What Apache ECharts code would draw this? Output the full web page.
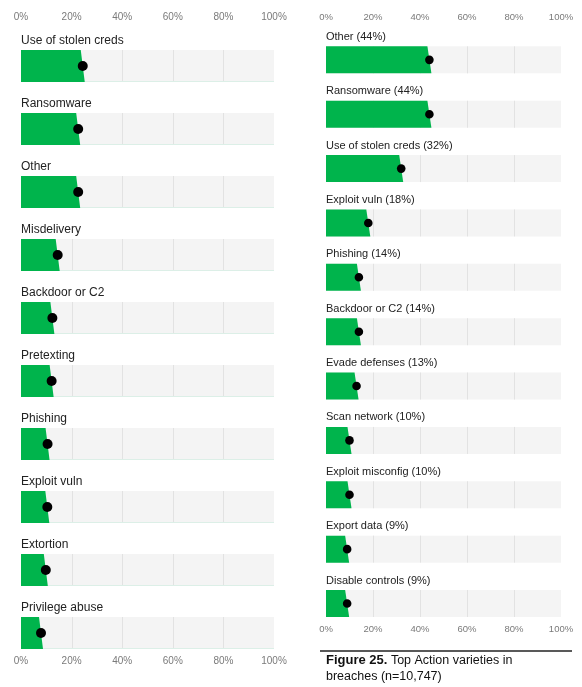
<!DOCTYPE html>
<html>
<head>
<meta charset="utf-8">
<script src="https://cdn.jsdelivr.net/npm/echarts@6/dist/echarts.min.js"></script>
<style>
  html, body { margin: 0; padding: 0; background: #fff; }
  #container { width: 582px; height: 687px; }
</style>
</head>
<body>
<div id="container"></div>
<script>
// left panel: action varieties, dot = point estimate (%)
var leftNames = ['Use of stolen creds', 'Ransomware', 'Other', 'Misdelivery', 'Backdoor or C2',
  'Pretexting', 'Phishing', 'Exploit vuln', 'Extortion', 'Privilege abuse'];
var leftValues = [24.4, 22.6, 22.6, 14.5, 12.4, 12.1, 10.5, 10.4, 9.8, 7.9];

// right panel: top action varieties in breaches (%)
var rightNames = ['Other', 'Ransomware', 'Use of stolen creds', 'Exploit vuln', 'Phishing',
  'Backdoor or C2', 'Evade defenses', 'Scan network', 'Exploit misconfig', 'Export data', 'Disable controls'];
var rightValues = [44, 44, 32, 18, 14, 14, 13, 10, 10, 9, 9];

var gridTicks = [20, 40, 60, 80];

var GREEN = '#00b44c';
var FONT = '"Liberation Sans", Arial, sans-serif';

var dom = document.getElementById('container');
var myChart = echarts.init(dom, null, { renderer: 'canvas' });

// draws one row: gray track, grid lines, green slab, black dot and the label above
function makeRender(names, showPct, barH, dotR, labelGap, fontSize, bottomLine) {
  return function(params, api) {
    var idx = api.value(1);
    var v = api.value(0);
    var p0 = api.coord([0, idx]);
    var p100 = api.coord([100, idx]);
    var pv = api.coord([v, idx]);
    var band = api.size([0, 1])[1];
    var bottom = p0[1] + band / 2;
    var top = bottom - barH;
    var children = [];
    children.push({
      type: 'rect',
      shape: { x: p0[0], y: top, width: p100[0] - p0[0], height: barH },
      style: { fill: '#f4f4f4' }
    });
    gridTicks.forEach(function(t) {
      var x = Math.round(api.coord([t, idx])[0]) + 0.5;
      children.push({
        type: 'line',
        shape: { x1: x, y1: top, x2: x, y2: bottom },
        style: { stroke: '#e2e2e2', lineWidth: 1 }
      });
    });
    if (bottomLine) {
      children.push({
        type: 'line',
        shape: { x1: p0[0], y1: bottom - 0.5, x2: p100[0], y2: bottom - 0.5 },
        style: { stroke: '#dcefe7', lineWidth: 1 }
      });
    }
    children.push({
      type: 'polygon',
      shape: { points: [[p0[0], top], [pv[0] - 2, top], [pv[0] + 2, bottom], [p0[0], bottom]] },
      style: { fill: GREEN }
    });
    children.push({
      type: 'circle',
      shape: { cx: pv[0], cy: top + barH / 2, r: dotR },
      style: { fill: '#000' }
    });
    children.push({
      type: 'text',
      x: p0[0],
      y: top - labelGap,
      style: {
        text: names[idx] + (showPct ? ' (' + v + '%)' : ''),
        fill: '#222',
        font: fontSize + 'px ' + FONT,
        verticalAlign: 'middle',
        align: 'left'
      }
    });
    return { type: 'group', children: children };
  };
}

function pctAxis(gridIndex, position, margin, size) {
  return {
    type: 'value',
    gridIndex: gridIndex,
    position: position,
    min: 0,
    max: 100,
    interval: 20,
    axisLine: { show: false },
    axisTick: { show: false },
    splitLine: { show: false },
    axisLabel: {
      margin: margin,
      color: '#7a7a7a',
      fontSize: size,
      fontFamily: FONT,
      formatter: '{value}%'
    }
  };
}

function catAxis(gridIndex, names) {
  return {
    type: 'category',
    gridIndex: gridIndex,
    inverse: true,
    data: names,
    show: false
  };
}

var option = {
  animation: false,
  grid: [
    { left: 21, top: 19, width: 253, height: 630 },
    { left: 326, top: 19, width: 235, height: 598 }
  ],
  xAxis: [
    pctAxis(0, 'top', -3, 10),
    pctAxis(0, 'bottom', 7, 10),
    pctAxis(1, 'top', -3, 9.5),
    pctAxis(1, 'bottom', 7, 9.5)
  ],
  yAxis: [catAxis(0, leftNames), catAxis(1, rightNames)],
  title: {
    left: 326,
    top: 653,
    padding: 0,
    text: '{b|Figure 25.}{r| Top Action varieties in}\n{r|breaches (n=10,747)}',
    textStyle: {
      fontWeight: 'normal',
      fontSize: 12.5,
      lineHeight: 15.5,
      rich: {
        b: { fontWeight: 'bold', fontSize: 13, fontFamily: FONT, color: '#111', lineHeight: 15.5 },
        r: { fontWeight: 'normal', fontSize: 12.5, fontFamily: FONT, color: '#111', lineHeight: 15.5 }
      }
    }
  },
  graphic: [{
    type: 'line',
    shape: { x1: 320, y1: 651, x2: 572, y2: 651 },
    style: { stroke: '#222', lineWidth: 1.5 }
  }],
  series: [{
    type: 'custom',
    xAxisIndex: 0,
    yAxisIndex: 0,
    clip: false,
    renderItem: makeRender(leftNames, false, 32, 5, 9.5, 12, true),
    data: leftValues.map(function(v, i) { return [v, i]; })
  }, {
    type: 'custom',
    xAxisIndex: 2,
    yAxisIndex: 1,
    clip: false,
    renderItem: makeRender(rightNames, true, 27, 4.3, 9.5, 11, false),
    data: rightValues.map(function(v, i) { return [v, i]; })
  }]
};

myChart.setOption(option);
</script>
</body>
</html>
